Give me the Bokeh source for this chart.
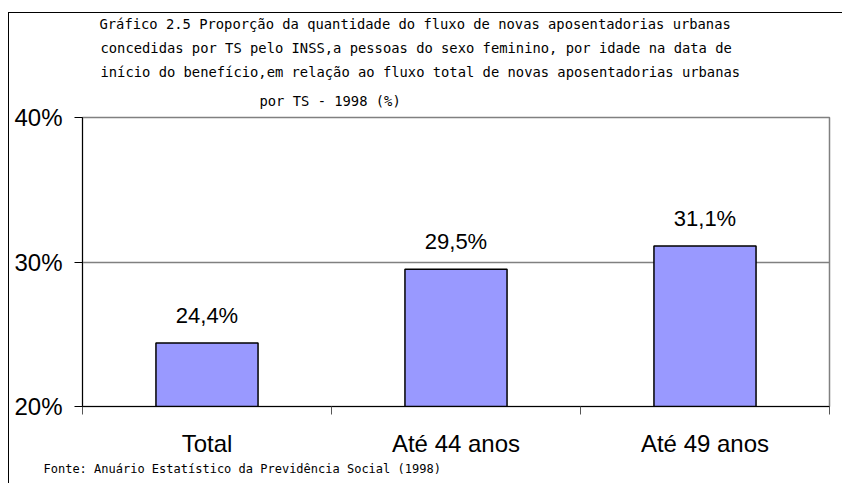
from bokeh.plotting import figure
from bokeh.models import (Range1d, FixedTicker, PrintfTickFormatter, LabelSet, Title,
                          ColumnDataSource, InlineStyleSheet)
from bokeh.core.properties import value
from bokeh.embed import file_html
from bokeh.resources import INLINE

categories = ["Total", "Até 44 anos", "Até 49 anos"]
values = [24.4, 29.5, 31.1]
y_ticks = [20, 30, 40]
title_lines = [
    "Gráfico 2.5 Proporção da quantidade do fluxo de novas aposentadorias urbanas",
    "concedidas por TS pelo INSS,a pessoas do sexo feminino, por idade na data de",
    "início do benefício,em relação ao fluxo total de novas aposentadorias urbanas",
    "por TS - 1998 (%)",
]
source_note = "Fonte: Anuário Estatístico da Previdência Social  (1998)"

xs = [i + 0.5 for i in range(len(categories))]
labels = [f"{v:.1f}%".replace(".", ",") for v in values]
src = ColumnDataSource(dict(x=xs, top=values, label=labels))

W, H = 842, 483
p = figure(width=W, height=H, output_backend="svg", toolbar_location=None,
           x_range=Range1d(0, len(categories)), y_range=Range1d(20, 40),
           min_border_left=82, min_border_right=13, min_border_top=117, min_border_bottom=77)
p.background_fill_color = "white"
p.border_fill_color = "white"
p.outline_line_color = "#808080"
p.outline_line_width = 1.5

p.vbar(x="x", top="top", bottom=20, width=0.41, source=src,
       fill_color="#9999FF", line_color="black", line_width=1.5)

p.add_layout(LabelSet(x="x", y="top", text="label", source=src, y_offset=20,
                      text_align="center", text_baseline="alphabetic",
                      text_font=value("Liberation Sans"), text_font_size=value("22px"),
                      text_color="black"))

# y axis
p.yaxis.ticker = FixedTicker(ticks=y_ticks)
p.yaxis.formatter = PrintfTickFormatter(format="%d%%")
p.yaxis.major_label_text_font = "Liberation Sans"
p.yaxis.major_label_text_font_size = "24px"
p.yaxis.major_label_text_color = "black"
p.yaxis.major_tick_out = 8
p.yaxis.major_tick_in = 0
p.yaxis.minor_tick_line_color = None
p.yaxis.major_label_standoff = 12
p.yaxis.axis_line_color = "black"

# x axis
p.xaxis.ticker = FixedTicker(ticks=xs, minor_ticks=list(range(len(categories) + 1)))
p.xaxis.major_label_overrides = {x: c for x, c in zip(xs, categories)}
p.xaxis.major_tick_line_color = None
p.xaxis.major_tick_out = 0
p.xaxis.major_tick_in = 0
p.xaxis.minor_tick_out = 8
p.xaxis.minor_tick_in = 0
p.xaxis.minor_tick_line_color = "#555555"
p.xaxis.major_label_text_font = "Liberation Sans"
p.xaxis.major_label_text_font_size = "24px"
p.xaxis.major_label_text_color = "black"
p.xaxis.major_label_standoff = 15
p.xaxis.axis_line_color = "black"

p.xgrid.grid_line_color = None
p.ygrid.ticker = FixedTicker(ticks=[30])
p.ygrid.grid_line_color = "#808080"
p.ygrid.grid_line_width = 1.5

# title lines, stacked above the plot (last line nearest the frame)
title_offsets = [17, 18, 18, 177]
title_standoffs = [6, 6, 6, 17]
for t, off, so in reversed(list(zip(title_lines, title_offsets, title_standoffs))):
    p.add_layout(Title(text=t, align="left", offset=off, standoff=so,
                       text_font="DejaVu Sans Mono", text_font_size="13.8px",
                       text_font_style="normal", text_color="black"), "above")

p.add_layout(Title(text=source_note, align="left", offset=-39, standoff=0,
                   text_font="DejaVu Sans Mono", text_font_size="12px",
                   text_font_style="normal", text_color="black"), "below")

p.stylesheets = [InlineStyleSheet(css=(
    ":host { position: relative; }"
    ":host::after { content: ''; position: absolute; left: 8px; top: 12px; right: -20px;"
    " bottom: -20px; border-left: 1.5px solid black; border-top: 1.5px solid black;"
    " pointer-events: none; z-index: 10; }"))]

open("out.html", "w").write(file_html(p, INLINE))
